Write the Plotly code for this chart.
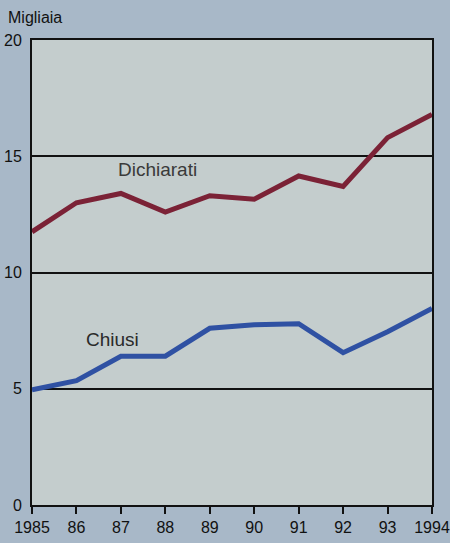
import plotly.graph_objects as go

years = [1985, 1986, 1987, 1988, 1989, 1990, 1991, 1992, 1993, 1994]
tick_labels = ["1985", "86", "87", "88", "89", "90", "91", "92", "93", "1994"]
dichiarati = [11.75, 13.0, 13.4, 12.6, 13.3, 13.15, 14.15, 13.7, 15.8, 16.8]
chiusi = [4.95, 5.35, 6.4, 6.4, 7.6, 7.75, 7.8, 6.55, 7.45, 8.45]
y_ticks = [0, 5, 10, 15, 20]

FONT = "Liberation Sans, Arial, Helvetica"
BG = "#a8b8c8"

fig = go.Figure()
fig.add_trace(go.Scatter(x=years, y=dichiarati, mode="lines",
                         line=dict(color="#7b2236", width=5), name="Dichiarati"))
fig.add_trace(go.Scatter(x=years, y=chiusi, mode="lines",
                         line=dict(color="#2f51a3", width=5), name="Chiusi"))

fig.add_annotation(x=1987.83, y=14.45, text="Dichiarati", showarrow=False,
                   font=dict(family=FONT, size=19, color="#3a3a3a"))
fig.add_annotation(x=1986.8, y=7.1, text="Chiusi", showarrow=False,
                   font=dict(family=FONT, size=19, color="#2a2a2a"))
fig.add_annotation(xref="paper", yref="paper", x=-0.064, y=1.026, xanchor="left", yanchor="bottom",
                   text="Migliaia", showarrow=False,
                   font=dict(family=FONT, size=16, color="#111111"))

fig.update_layout(
    width=450, height=543,
    margin=dict(l=32, r=18, t=40, b=38),
    paper_bgcolor=BG,
    plot_bgcolor="#c4cdcd",
    showlegend=False,
    font=dict(family=FONT, size=16, color="#111111"),
)
fig.update_xaxes(range=[1985, 1994], tickmode="array", tickvals=years, ticktext=tick_labels,
                 showgrid=False, showline=True, linecolor="#111111", linewidth=2, mirror=True,
                 ticks="outside", ticklen=7, tickwidth=2, tickcolor="#111111", zeroline=False,
                 automargin=False, tickfont=dict(family=FONT, size=16, color="#111111"))
fig.update_yaxes(range=[0, 20], tickmode="array", tickvals=y_ticks,
                 showgrid=True, gridcolor="#111111", gridwidth=1.5,
                 showline=True, linecolor="#111111", linewidth=2, mirror=True,
                 ticks="", zeroline=False, ticklabelstandoff=5, automargin=False,
                 tickfont=dict(family=FONT, size=16, color="#111111"))

fig.write_html("out.html",
               config={"displayModeBar": False},
               post_script="document.body.style.margin='0';document.body.style.overflow='hidden';"
                           "document.body.style.background='" + BG + "';")
